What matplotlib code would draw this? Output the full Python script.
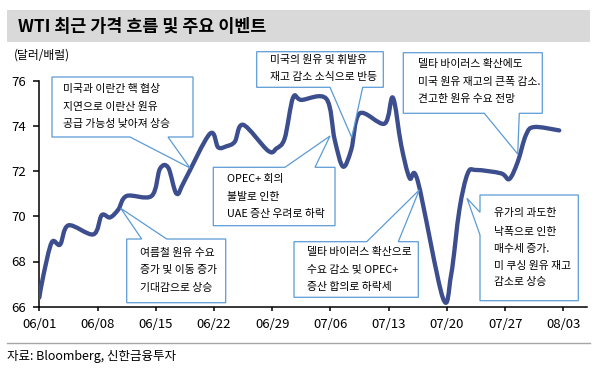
import numpy as np
import pandas as pd
import matplotlib
matplotlib.use('Agg')
import matplotlib.pyplot as plt
from matplotlib.path import Path
from matplotlib.patches import PathPatch, Polygon, Rectangle
from matplotlib.lines import Line2D

plt.rcParams['font.family'] = ['Noto Sans CJK KR', 'DejaVu Sans']

# ---------------- data ----------------
dates = ['05/31', '06/01', '06/02', '06/03', '06/04', '06/07', '06/08', '06/09', '06/10',
         '06/11', '06/14', '06/15', '06/16', '06/17', '06/18', '06/21', '06/22', '06/23',
         '06/24', '06/25', '06/28', '06/29', '06/30', '07/01', '07/02', '07/05', '07/06',
         '07/07', '07/08', '07/09', '07/12', '07/13', '07/14', '07/15', '07/16', '07/19',
         '07/20', '07/21', '07/22', '07/23', '07/26', '07/27', '07/28', '07/29', '07/30',
         '08/02']
prices = [66.4, 67.4, 68.85, 68.75, 69.6, 69.2, 70.05, 69.95, 70.3,
          70.9, 70.9, 72.1, 72.15, 71.0, 71.6, 73.65, 73.05, 73.1,
          73.3, 74.05, 72.9, 73.0, 73.45, 75.25, 75.15, 75.2, 73.4,
          72.2, 72.95, 74.55, 74.1, 75.25, 73.15, 71.7, 71.55, 66.4,
          67.4, 70.3, 71.9, 72.05, 71.9, 71.65, 72.4, 73.6, 73.95,
          73.8]
tick_labels = ['06/01', '06/08', '06/15', '06/22', '06/29', '07/06', '07/13', '07/20',
               '07/27', '08/03']
y_ticks = [66, 68, 70, 72, 74, 76]

title = 'WTI 최근 가격 흐름 및 주요 이벤트'
unit_label = '(달러/배럴)'
source = '자료: Bloomberg, 신한금융투자'

callout_texts = [
    ['미국과 이란간 핵 협상', '지연으로 이란산 원유', '공급 가능성 낮아져 상승'],
    ['미국의 원유 및 휘발유', '재고 감소 소식으로 반등'],
    ['델타 바이러스 확산에도', '미국 원유 재고의 큰폭 감소.', '견고한 원유 수요 전망'],
    ['OPEC+ 회의', '불발로 인한', 'UAE 증산 우려로 하락'],
    ['여름철 원유 수요', '증가 및 이동 증가', '기대감으로 상승'],
    ['델타 바이러스 확산으로', '수요 감소 및 OPEC+', '증산 합의로 하락세'],
    ['유가의 과도한', '낙폭으로 인한', '매수세 증가.', '미 쿠싱 원유 재고', '감소로 상승'],
]

# ---------------- figure ----------------
W, H = 594, 372
fig = plt.figure(figsize=(W / 100, H / 100), dpi=100)


def fx(x):
    return x / W


def fy(y):
    return 1 - y / H


def fp(x, y):
    return (fx(x), fy(y))


line_color = '#3C4E8E'
box_color = '#5B9BD5'

ax_l, ax_r, ax_t, ax_b = 39.3, 586.7, 80.7, 306.7
ax = fig.add_axes([fx(ax_l), fy(ax_b), (ax_r - ax_l) / W, (ax_b - ax_t) / H])

base = pd.Timestamp('2021-06-01')
day = np.array([(pd.Timestamp('2021/' + d) - base).days for d in dates], dtype=float)
# Excel-like "between tick marks" placement: each day sits in the middle of its slot
xpos = np.clip(day + 0.5, 0, None)
ypos = np.array(prices)

# smoothed line (Catmull-Rom through the data points, like Excel's smoothed line)
pts = np.column_stack([xpos, ypos])
n = len(pts)
verts = [pts[0]]
codes = [Path.MOVETO]
for i in range(n - 1):
    p0 = pts[i - 1] if i > 0 else pts[i]
    p1 = pts[i]
    p2 = pts[i + 1]
    p3 = pts[i + 2] if i + 2 < n else pts[i + 1]
    c1 = p1 + (p2 - p0) / 6
    c2 = p2 - (p3 - p1) / 6
    verts += [c1, c2, p2]
    codes += [Path.CURVE4] * 3
ax.add_patch(PathPatch(Path(verts, codes), fill=False, edgecolor=line_color, lw=3.1,
                       capstyle='round', joinstyle='round', zorder=3))

tick_pos = [(pd.Timestamp('2021/' + t) - base).days for t in tick_labels]
ax.set_xlim(0, 65.8)
ax.set_ylim(66, 76)
ax.set_xticks(tick_pos)
ax.set_xticklabels(tick_labels)
ax.set_yticks(y_ticks)
ax.set_yticklabels([str(v) for v in y_ticks])
for s in ['top', 'right']:
    ax.spines[s].set_visible(False)
for s in ['left', 'bottom']:
    ax.spines[s].set_color('black')
    ax.spines[s].set_linewidth(1.1)
ax.tick_params(axis='y', direction='out', length=4.5, width=1.1, pad=5, labelsize=9.5)
ax.tick_params(axis='x', direction='out', length=3, width=1.1, pad=5, labelsize=9.5)
ax.patch.set_alpha(0)

# ---------------- title band ----------------
fig.patches.append(Rectangle(fp(7.3, 41.7), (590 - 7.3) / W, (41.7 - 10) / H,
                             transform=fig.transFigure, facecolor='#D9D9D9',
                             edgecolor='none', zorder=0))
fig.text(fx(18.3), fy(26.5), title, fontsize=12.5, fontweight='bold', va='center',
         ha='left', color='black')
fig.text(fx(14), fy(55), unit_label, fontsize=8.5, va='center', ha='left')

# bottom rule and source
fig.lines.append(Line2D([fx(7), fx(590)], [fy(343.3), fy(343.3)], transform=fig.transFigure,
                        color='#A6A6A6', lw=1.0))
fig.text(fx(7), fy(356.7), source, fontsize=9, va='center', ha='left')

# ---------------- callouts (pixel layout) ----------------
callout_layout = [
    # box (x0, y0, x1, y1), side, wedge base (a, b), tip, text left, text line ys
    ((52, 77, 193, 137), 'bottom', (130, 168), (190, 168), 63.3, [89.3, 107.3, 124.5]),
    ((256.7, 51.7, 383.3, 87.3), 'bottom', (330, 362.7), (351.7, 137.5), 270, [60, 77]),
    ((403.3, 52.7, 542.3, 113.3), 'bottom', (484.3, 519.3), (517.7, 154), 417.7, [64.3, 81.7, 99]),
    ((213.3, 167.3, 335, 225.7), 'top', (285, 315), (330, 136), 227.3, [179, 196.7, 214.3]),
    ((126.7, 239, 225.7, 302.7), 'top', (141.7, 166.7), (120.7, 208.3), 140, [252.7, 270, 287.7]),
    ((294, 241.7, 418.3, 297.3), 'top', (366.7, 398.3), (419.3, 190), 306.7, [252, 269.5, 286.7]),
    ((480, 195, 578.3, 300.7), 'left', (212.3, 235), (467, 198.3), 494,
     [213.3, 231.7, 249.3, 265.7, 282]),
]

for (box, side, (a, b), tip, tx, tys), lines in zip(callout_layout, callout_texts):
    x0, y0, x1, y1 = box
    if side == 'bottom':
        v = [(x0, y0), (x1, y0), (x1, y1), (b, y1), tip, (a, y1), (x0, y1)]
    elif side == 'top':
        v = [(x0, y0), (a, y0), tip, (b, y0), (x1, y0), (x1, y1), (x0, y1)]
    else:
        v = [(x0, y0), (x1, y0), (x1, y1), (x0, y1), (x0, b), tip, (x0, a)]
    poly = Polygon([fp(px, py) for px, py in v], closed=True, transform=fig.transFigure,
                   facecolor='white', edgecolor=box_color, lw=0.9, zorder=5)
    fig.patches.append(poly)
    for txt, ty in zip(lines, tys):
        fig.text(fx(tx), fy(ty), txt, fontsize=7.8, va='center', ha='left', zorder=6)

fig.savefig('out.png', dpi=100)
